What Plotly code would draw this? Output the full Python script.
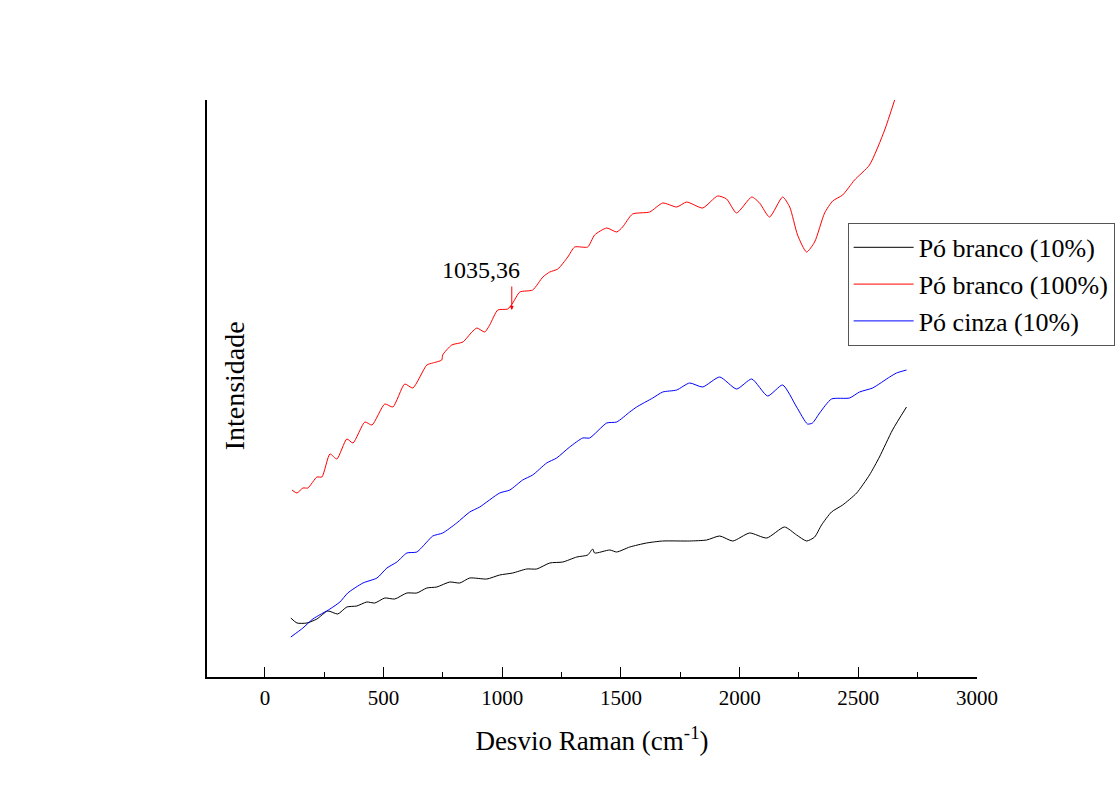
import plotly.graph_objects as go

# Raman shift (cm^-1) and intensity (a.u.)
red_x = [114, 135, 160, 181, 219, 240, 274, 303, 345, 371, 421, 451, 505, 539, 589, 623, 682, 707, 745, 749,
         787, 834, 872, 893, 926, 947, 981, 1023, 1044, 1074, 1128, 1171, 1200, 1234, 1276, 1305, 1360, 1389,
         1440, 1482, 1507, 1549, 1621, 1676, 1735, 1777, 1844, 1907, 1945, 1987, 2051, 2084, 2126, 2181, 2211,
         2244, 2282, 2316, 2358, 2392, 2434, 2484, 2547, 2611, 2653]
red_y = [187, 184, 189, 189, 200, 200, 223, 218, 238, 234, 255, 252, 273, 270, 293, 289, 312, 314, 317, 322,
         332, 335, 345, 349, 345, 352, 367, 368, 374, 385, 387, 400, 405, 408, 420, 430, 430, 442,
         449, 445, 450, 463, 465, 474, 470, 475, 469, 481, 478, 464, 480, 474, 460, 480, 470,
         442, 425, 435, 464, 476, 482, 497, 512, 547, 577]

blue_x = [109, 160, 202, 274, 316, 349, 413, 472, 514, 556, 598, 640, 682, 707, 749, 808, 863, 905, 989, 1032,
          1086, 1128, 1187, 1229, 1284, 1339, 1368, 1440, 1482, 1537, 1566, 1634, 1676, 1735, 1789, 1844, 1916,
          1987, 2051, 2118, 2181, 2240, 2286, 2307, 2337, 2387, 2463, 2505, 2560, 2632, 2661, 2703]
blue_y = [40, 49, 58, 68, 75, 84, 94, 99, 109, 115, 124, 125, 135, 141, 144, 154, 165, 170, 184, 187,
          197, 202, 214, 219, 230, 239, 239, 254, 255, 265, 270, 279, 285, 287, 294, 290, 300,
          288, 298, 281, 292, 270, 253, 254, 264, 278, 279, 285, 289, 300, 304, 307]

black_x = [109, 135, 177, 219, 265, 307, 345, 387, 429, 463, 505, 547, 598, 640, 682, 724, 779, 821, 863, 935,
           989, 1044, 1103, 1145, 1200, 1255, 1314, 1360, 1381, 1389, 1453, 1482, 1537, 1608, 1676, 1789, 1861,
           1916, 1971, 2042, 2114, 2189, 2240, 2282, 2316, 2345, 2387, 2434, 2493, 2547, 2589, 2644, 2703]
black_y = [59, 54, 54, 58, 66, 63, 70, 71, 75, 74, 79, 78, 84, 84, 89, 90, 95, 94, 99, 98,
           102, 104, 108, 108, 114, 115, 120, 122, 128, 124, 127, 125, 130, 134, 136, 136, 137,
           141, 136, 144, 139, 150, 142, 136, 140, 152, 165, 172, 184, 202, 220, 247, 270]

names = ["Pó branco (10%)", "Pó branco (100%)", "Pó cinza (10%)"]
peak_label = "1035,36"
peak_x = 1040
peak_y = 367

FONT = "Liberation Serif, Times New Roman, serif"

fig = go.Figure()
fig.add_trace(go.Scatter(x=black_x, y=black_y, mode="lines", name=names[0],
                         line=dict(color="black", width=1, shape="spline", smoothing=0.6)))
fig.add_trace(go.Scatter(x=red_x, y=red_y, mode="lines", name=names[1],
                         line=dict(color="red", width=1, shape="spline", smoothing=0.6)))
fig.add_trace(go.Scatter(x=blue_x, y=blue_y, mode="lines", name=names[2],
                         line=dict(color="blue", width=1, shape="spline", smoothing=0.6)))

# arrow
fig.add_annotation(x=peak_x, y=peak_y, xref="x", yref="y", text="", showarrow=True,
                   ax=0, ay=-25, arrowcolor="red", arrowwidth=1, arrowhead=2, arrowsize=0.8)
fig.add_annotation(x=909, y=407, xref="x", yref="y", text=peak_label, showarrow=False,
                   font=dict(family=FONT, size=24, color="black"))
# y title inside plot
fig.add_annotation(x=0.036, y=0.505, xref="paper", yref="paper", text="Intensidade", textangle=-90,
                   xanchor="center", yanchor="middle",
                   showarrow=False, font=dict(family=FONT, size=28, color="black"))

fig.update_layout(
    width=1118, height=799,
    margin=dict(l=207, r=141, t=100, b=122, autoexpand=False),
    paper_bgcolor="white", plot_bgcolor="white",
    font=dict(family=FONT, color="black"),
    showlegend=True,
    legend=dict(x=0.832, y=0.787, xanchor="left", yanchor="top",
                bordercolor="#555555", borderwidth=1, bgcolor="white",
                font=dict(family=FONT, size=26), itemwidth=60, tracegroupgap=0),
)
fig.update_xaxes(range=[-244, 3000], showline=True, linecolor="black", linewidth=1.5,
                 ticks="inside", ticklen=10, tickwidth=1.2, tickcolor="black",
                 tick0=0, dtick=500, showgrid=False, zeroline=False,
                 tickfont=dict(family=FONT, size=21), ticklabelstandoff=1,
                 minor=dict(ticks="inside", ticklen=5, tickcolor="black", dtick=250, showgrid=False),
                 title=dict(text="Desvio Raman (cm<sup>-1</sup>)", font=dict(family=FONT, size=27), standoff=22))
fig.update_yaxes(range=[0, 577], showline=True, linecolor="black", linewidth=1.5,
                 ticks="", showticklabels=False, showgrid=False, zeroline=False)

fig.write_html("out.html")
